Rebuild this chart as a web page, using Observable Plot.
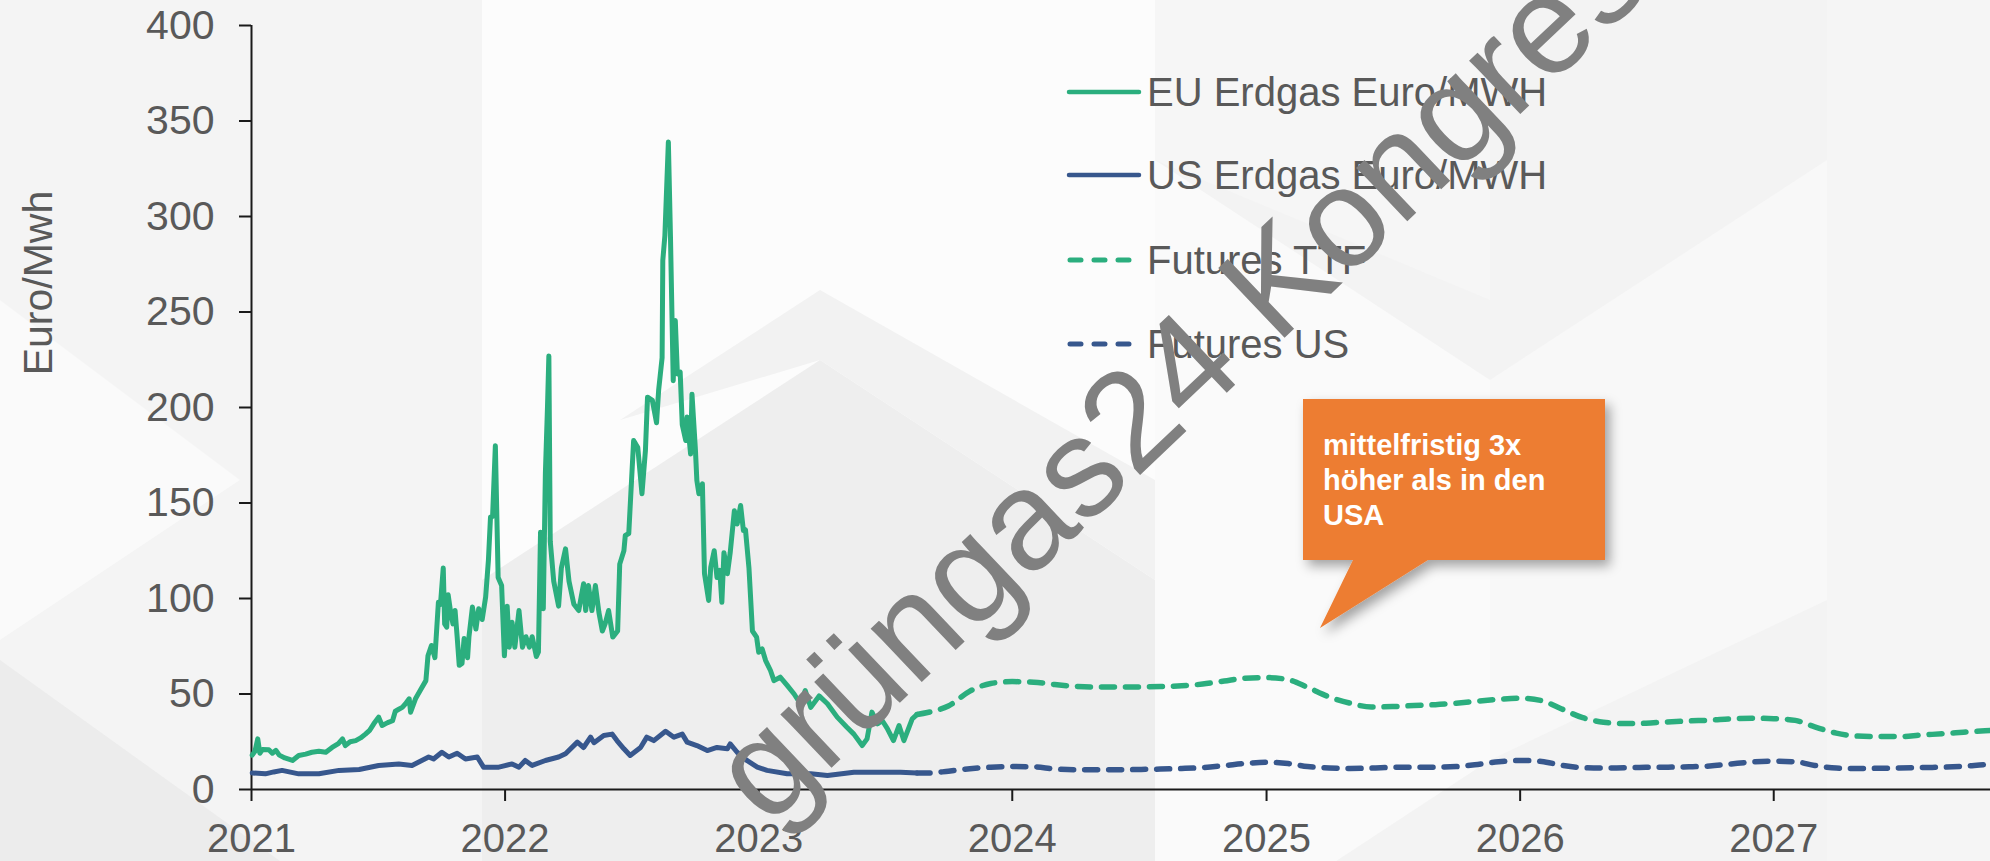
<!DOCTYPE html>
<html>
<head>
<meta charset="utf-8">
<script src="https://cdn.jsdelivr.net/npm/d3@7"></script>
<script src="https://cdn.jsdelivr.net/npm/@observablehq/plot@0.6"></script>
<style>
  html, body { margin: 0; padding: 0; background: #fff; }
  #wrap { position: relative; width: 1990px; height: 861px; overflow: hidden; font-family: "Liberation Sans", Arial, sans-serif; }
  #bg, #chart, #overlay { position: absolute; left: 0; top: 0; }
</style>
</head>
<body>
<div id="wrap">
  <svg id="bg" width="1990" height="861"></svg>
  <div id="chart"></div>
  <svg id="overlay" width="1990" height="861"></svg>
</div>
<script>
// ---------- DATA ----------
const yTicks = [0, 50, 100, 150, 200, 250, 300, 350, 400];
const yearLabels = ["2021", "2022", "2023", "2024", "2025", "2026", "2027"];
const yLabel = "Euro/Mwh";
const seriesNames = ["EU Erdgas Euro/MWH", "US Erdgas Euro/MWH", "Futures TTF", "Futures US"];
const calloutLines = ["mittelfristig 3x", "höher als in den", "USA"];
const watermarkText = "grüngas24 Kongress";

const euDates = [
  "2021-01-02","2021-01-06","2021-01-10","2021-01-13","2021-01-17","2021-01-26","2021-01-31","2021-02-05","2021-02-10","2021-02-18",
  "2021-03-01","2021-03-10","2021-03-20","2021-03-29","2021-04-08","2021-04-18","2021-04-27","2021-05-06","2021-05-12","2021-05-16",
  "2021-05-23","2021-05-31","2021-06-07","2021-06-14","2021-06-20","2021-06-26","2021-07-03","2021-07-08","2021-07-16","2021-07-23",
  "2021-07-27","2021-08-01","2021-08-06","2021-08-11","2021-08-16","2021-08-18","2021-08-25","2021-09-01","2021-09-09","2021-09-12",
  "2021-09-17","2021-09-22","2021-09-27","2021-09-30","2021-10-04","2021-10-06","2021-10-09","2021-10-11","2021-10-15","2021-10-18",
  "2021-10-21","2021-10-24","2021-10-27","2021-10-31","2021-11-03","2021-11-08","2021-11-10","2021-11-15","2021-11-20","2021-11-24",
  "2021-11-29","2021-12-04","2021-12-08","2021-12-11","2021-12-14","2021-12-18","2021-12-22","2021-12-27","2021-12-31",
  "2022-01-04","2022-01-07","2022-01-11","2022-01-15","2022-01-21","2022-01-26","2022-01-31","2022-02-05","2022-02-09","2022-02-15",
  "2022-02-18","2022-02-21","2022-02-25","2022-02-28","2022-03-03","2022-03-05","2022-03-07","2022-03-12","2022-03-19","2022-03-23",
  "2022-03-29","2022-04-03","2022-04-10","2022-04-17","2022-04-24","2022-04-27","2022-05-01","2022-05-06","2022-05-11","2022-05-16",
  "2022-05-21","2022-05-25","2022-05-30","2022-06-05","2022-06-12","2022-06-15","2022-06-21","2022-06-23","2022-06-28","2022-07-05",
  "2022-07-11","2022-07-17","2022-07-22","2022-07-25","2022-08-01","2022-08-07","2022-08-10","2022-08-15","2022-08-16","2022-08-19",
  "2022-08-24","2022-08-27","2022-08-31","2022-09-03","2022-09-06","2022-09-10","2022-09-13","2022-09-18","2022-09-20","2022-09-25",
  "2022-09-27","2022-10-02","2022-10-04","2022-10-07","2022-10-12","2022-10-15","2022-10-21","2022-10-24","2022-10-29","2022-11-02",
  "2022-11-06","2022-11-09","2022-11-12","2022-11-17","2022-11-21","2022-11-27","2022-12-01","2022-12-06","2022-12-10","2022-12-13",
  "2022-12-18","2022-12-23","2022-12-29",
  "2023-01-01","2023-01-06","2023-01-11","2023-01-18","2023-01-23","2023-02-01","2023-02-11","2023-02-21","2023-03-02","2023-03-09",
  "2023-03-17","2023-03-29","2023-04-10","2023-04-24","2023-05-08","2023-05-18","2023-05-30","2023-06-06","2023-06-13","2023-06-21",
  "2023-06-28","2023-07-05","2023-07-14","2023-07-22","2023-07-29","2023-08-10","2023-08-17"
];
const euValues = [
  18, 20, 26.5, 19, 21, 20.8, 19, 20.5, 18, 16.5,
  15.2, 17.8, 18.5, 19.5, 20, 19.5, 22, 24, 26.5, 23,
  25, 25.6, 27, 29, 31, 34.4, 37.9, 33.5, 35, 36,
  41, 42, 43, 45, 47.5, 40.5, 47.5, 52, 57, 70,
  75.4, 69, 98, 97, 116, 86.7, 85, 102, 92, 86.7,
  93.7, 80, 65, 66, 79, 69, 80, 95.5, 84, 94.6,
  89, 100.7, 120, 142.6, 143, 180, 111, 106.8, 70,
  96, 74.5, 87.6, 74.5, 93.7, 74.5, 80, 74.5, 80, 69.6,
  72, 134.7, 94.6, 165.6, 200, 227, 130, 109, 96, 116,
  126, 109, 97, 93.7, 107.7, 93.7, 106.8, 93.7, 106.8, 92.8,
  83, 86.7, 93.7, 79.8, 83, 118, 125, 133, 134, 182.7,
  179, 154.8, 177.5, 205.4, 203.7, 192, 209, 226, 277, 290,
  339, 290, 214, 245.5, 217.6, 218.5, 191, 182.7, 195, 175.7,
  207, 177.5, 161.8, 154.8, 160, 113, 99, 116.4, 125, 111,
  114.7, 98, 124, 113, 124, 146, 139, 148.7, 135.6, 136,
  116, 83, 79.8,
  71.9, 73.6, 67.5, 62.3, 57, 58.8, 54.5, 50, 44.9, 51.8,
  43, 49, 44.9, 37.9, 32.6, 29, 23, 26.5, 40.5, 34.4,
  36, 32, 25.6, 33.5, 25.6, 37, 39.3
];

const usDates = [
  "2021-01-02","2021-01-21","2021-02-02","2021-02-14","2021-03-10","2021-04-08","2021-05-07","2021-06-05","2021-07-03","2021-08-01",
  "2021-08-20","2021-09-13","2021-09-20","2021-10-02","2021-10-12","2021-10-24","2021-11-05","2021-11-22","2021-12-01","2021-12-23",
  "2022-01-11","2022-01-21","2022-01-30","2022-02-09","2022-02-28","2022-03-19","2022-03-29","2022-04-15","2022-04-24","2022-05-04",
  "2022-05-09","2022-05-23","2022-06-04","2022-06-11","2022-06-21","2022-06-30","2022-07-15","2022-07-24","2022-08-03","2022-08-20",
  "2022-09-01","2022-09-13","2022-09-20","2022-10-04","2022-10-19","2022-11-02","2022-11-17","2022-11-21","2022-12-01","2022-12-15",
  "2022-12-30","2023-01-13","2023-02-11","2023-03-17","2023-04-10","2023-05-18","2023-06-20","2023-07-24","2023-08-17"
];
const usValues = [
  8.7, 8.2, 9.2, 10, 8.2, 8.2, 10, 10.5, 12.6, 13.4,
  12.6, 17, 16, 19.5, 17, 19, 16, 17, 11.7, 11.7,
  13.4, 11.7, 15.2, 12.6, 15.2, 17, 18.7, 24.8, 22, 27.4,
  24.5, 28.3, 29, 25.6, 21.3, 17.8, 22, 27.4, 25.6, 30.5,
  27.4, 29, 24.8, 23, 20.4, 22, 21.3, 23.9, 19.5, 15.2,
  11.7, 10, 8.2, 8.2, 7.3, 9, 9, 9, 8.6
];

const futDates = [
  "2023-08-17","2023-09-01","2023-10-01","2023-11-01","2023-12-01",
  "2024-01-01","2024-02-01","2024-03-01","2024-04-01","2024-05-01","2024-06-01","2024-07-01","2024-08-01","2024-09-01","2024-10-01","2024-11-01","2024-12-01",
  "2025-01-01","2025-02-01","2025-03-01","2025-04-01","2025-05-01","2025-06-01","2025-07-01","2025-08-01","2025-09-01","2025-10-01","2025-11-01","2025-12-01",
  "2026-01-01","2026-02-01","2026-03-01","2026-04-01","2026-05-01","2026-06-01","2026-07-01","2026-08-01","2026-09-01","2026-10-01","2026-11-01","2026-12-01",
  "2027-01-01","2027-02-01","2027-03-01","2027-04-01","2027-05-01","2027-06-01","2027-07-01","2027-08-01","2027-09-01","2027-10-01","2027-11-01","2027-12-01"
];
const ttfValues = [
  39.3, 40.3, 43.7, 51.5, 55.5,
  56.5, 56.2, 55, 54, 53.6, 53.6, 53.7, 53.9, 54.3, 55.2, 56.8, 58.3,
  58.6, 57.5, 53.5, 48.5, 45.2, 43.2, 43.4, 44.0, 44.4, 45.2, 46.2, 47.2,
  47.8, 46.5, 42.3, 37.6, 35.2, 34.5, 34.7, 35.4, 35.9, 36.3, 37.0, 37.3,
  37.1, 36.2, 32.8, 29.5, 28.0, 27.7, 27.7, 28.5, 29.2, 30.0, 30.8, 31.3
];
const usFutValues = [
  8.6, 8.6, 9.6, 10.9, 11.7,
  12.0, 11.9, 10.8, 10.3, 10.3, 10.3, 10.5, 10.7, 11.0, 11.5, 12.5, 13.6,
  14.3, 13.6, 12.0, 11.3, 11.0, 11.2, 11.6, 11.7, 11.7, 12.0, 13.1, 14.5,
  15.2, 14.7, 12.7, 11.4, 11.2, 11.4, 11.6, 11.7, 11.9, 12.3, 13.4, 14.4,
  14.8, 14.5, 12.6, 11.2, 11.0, 11.1, 11.3, 11.5, 11.7, 12.2, 13.0, 13.5
];

// ---------- STYLE ----------
const GREEN = "#2bae7e";
const BLUE = "#37578d";
const TEXT = "#595959";
const FONT = "'Liberation Sans', Arial, sans-serif";

// ---------- BUILD ----------
const parse = d3.utcParse("%Y-%m-%d");
const eu = euDates.map((d, i) => ({date: parse(d), value: euValues[i]}));
const us = usDates.map((d, i) => ({date: parse(d), value: usValues[i]}));
const ttf = futDates.map((d, i) => ({date: parse(d), value: ttfValues[i]}));
const usf = futDates.map((d, i) => ({date: parse(d), value: usFutValues[i]}));
const yearTicks = yearLabels.map(y => parse(y + "-01-01"));
const xStart = parse("2021-01-01");
const xEnd = parse("2027-11-09");

const chart = Plot.plot({
  width: 1990,
  height: 861,
  marginLeft: 251,
  marginRight: 0,
  marginTop: 25,
  marginBottom: 72,
  style: {background: "transparent", fontFamily: FONT, fontSize: "41px", color: TEXT, overflow: "visible"},
  x: {type: "utc", domain: [xStart, xEnd]},
  y: {domain: [0, 400]},
  marks: [
    Plot.axisY({ticks: yTicks, tickSize: 12, tickPadding: 25, label: null, stroke: "#1a1a1a", strokeWidth: 2, fill: TEXT, fontSize: 41}),
    Plot.axisX({ticks: yearTicks, tickSize: 12, tickPadding: 22, label: null, tickFormat: d3.utcFormat("%Y"), stroke: "#1a1a1a", strokeWidth: 2, fill: TEXT, fontSize: 40}),
    Plot.ruleX([xStart], {stroke: "#1a1a1a", strokeWidth: 2}),
    Plot.ruleY([0], {stroke: "#1a1a1a", strokeWidth: 2}),
    Plot.line(usf, {x: "date", y: "value", stroke: BLUE, strokeWidth: 5.5, strokeDasharray: "13,11", strokeLinecap: "round", curve: "monotone-x"}),
    Plot.line(ttf, {x: "date", y: "value", stroke: GREEN, strokeWidth: 5.5, strokeDasharray: "13,11", strokeLinecap: "round", curve: "monotone-x"}),
    Plot.line(us, {x: "date", y: "value", stroke: BLUE, strokeWidth: 5, strokeLinejoin: "round", strokeLinecap: "round"}),
    Plot.line(eu, {x: "date", y: "value", stroke: GREEN, strokeWidth: 5, strokeLinejoin: "round", strokeLinecap: "round"})
  ]
});
document.getElementById("chart").appendChild(chart);

// ---------- BACKGROUND (decorative) ----------
const bg = d3.select("#bg");
const bgShapes = [
  {p: "0,0 482,0 482,861 0,861", f: "#f4f4f4"},
  {p: "482,0 1155,0 1155,861 482,861", f: "#fcfcfc"},
  {p: "1155,0 1827,0 1827,861 1155,861", f: "#f3f3f3"},
  {p: "1827,0 1990,0 1990,861 1827,861", f: "#f5f5f5"},
  {p: "0,300 240,480 0,640", f: "#fafafa"},
  {p: "482,580 820,360 1155,580 1155,861 482,861", f: "#eeeeee"},
  {p: "620,420 820,290 1155,480 1155,580 820,360", f: "#f2f2f2"},
  {p: "0,861 0,660 280,861", f: "#ececec"},
  {p: "1155,160 1490,380 1490,760 1155,980", f: "#fafafa"},
  {p: "1490,380 1827,160 1827,600 1490,760", f: "#f8f8f8"},
  {p: "1155,0 1490,0 1490,300 1155,160", f: "#f6f6f6"}
];
bg.selectAll("polygon").data(bgShapes).join("polygon").attr("points", d => d.p).attr("fill", d => d.f);

// ---------- OVERLAY: legend, callout, watermark ----------
const ov = d3.select("#overlay");
const defs = ov.append("defs");
const flt = defs.append("filter").attr("id", "shadow").attr("x", "-20%").attr("y", "-20%").attr("width", "150%").attr("height", "150%");
flt.append("feDropShadow").attr("dx", 5).attr("dy", 6).attr("stdDeviation", 6).attr("flood-color", "#000").attr("flood-opacity", 0.35);

const legendStyles = [
  {c: GREEN, dash: null}, {c: BLUE, dash: null}, {c: GREEN, dash: "11,13"}, {c: BLUE, dash: "11,13"}
];
const legendBase = [106, 189, 274, 358];
seriesNames.forEach((name, i) => {
  const yb = legendBase[i];
  const s = legendStyles[i];
  const ln = ov.append("line")
    .attr("x1", s.dash ? 1070 : 1069).attr("x2", s.dash ? 1131 : 1139)
    .attr("y1", yb - 14).attr("y2", yb - 14)
    .attr("stroke", s.c).attr("stroke-width", s.dash ? 5 : 4.5).attr("stroke-linecap", "round");
  if (s.dash) ln.attr("stroke-dasharray", s.dash);
  ov.append("text").attr("x", 1147).attr("y", yb)
    .attr("font-family", FONT).attr("font-size", 40).attr("fill", TEXT).text(name);
});

// callout
ov.append("path")
  .attr("d", "M1303,399 H1605 V560 H1428 L1320,628 L1353,560 H1303 Z")
  .attr("fill", "#ed7d31").attr("filter", "url(#shadow)");
const calloutBase = [455, 490, 525];
calloutLines.forEach((t, i) => {
  ov.append("text").attr("x", 1323).attr("y", calloutBase[i])
    .attr("font-family", FONT).attr("font-weight", "bold").attr("font-size", 29).attr("fill", "#fff").text(t);
});

// y-axis title
ov.append("text").attr("transform", "translate(52,283) rotate(-90)")
  .attr("text-anchor", "middle").attr("font-family", FONT).attr("font-size", 41).attr("fill", TEXT).text(yLabel);

// watermark
ov.append("text").attr("transform", "translate(768,828) rotate(-43.5)")
  .attr("font-family", FONT).attr("font-size", 140).attr("fill", "#808080").text(watermarkText);
</script>
</body>
</html>
